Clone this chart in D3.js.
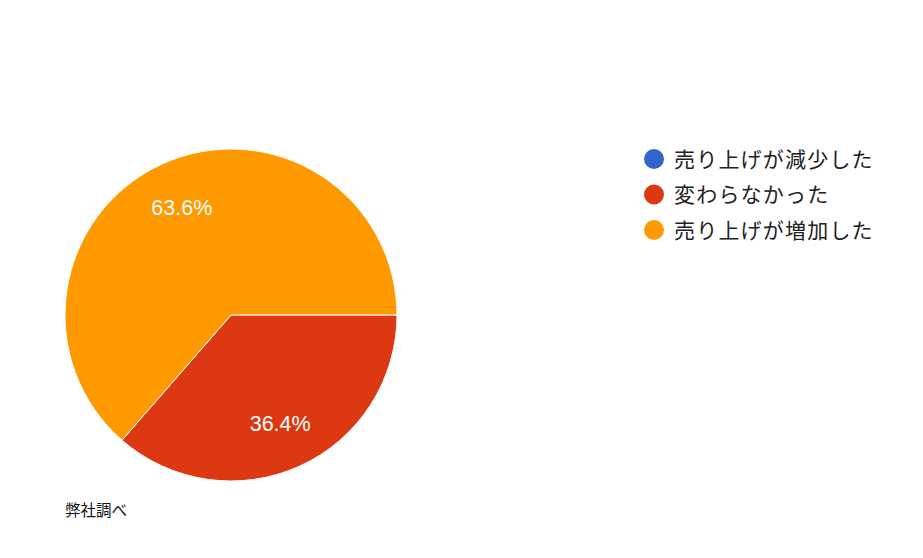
<!DOCTYPE html>
<html>
<head>
<meta charset="utf-8">
<script src="https://cdn.jsdelivr.net/npm/d3@7"></script>
<style>
  body { margin: 0; background: #fff; }
  svg { display: block; }
</style>
</head>
<body>
<svg></svg>
<script>
const categories = ["売り上げが減少した", "変わらなかった", "売り上げが増加した"];
const values = [0, 36.4, 63.6];
const colors = ["#3366cc", "#dc3912", "#ff9900"];
const source = "弊社調べ";

const width = 923;
const height = 558;
const cx = 231, cy = 315, radius = 166;

const svg = d3.select("svg").attr("width", width).attr("height", height);

const data = categories.map((c, i) => ({ name: c, value: values[i], color: colors[i] }));

const pie = d3.pie()
  .sort(null)
  .value(d => d.value)
  .startAngle(Math.PI / 2)
  .endAngle(Math.PI / 2 + 2 * Math.PI);

const arc = d3.arc().innerRadius(0).outerRadius(radius);
const labelArc = d3.arc().innerRadius(radius * 0.715).outerRadius(radius * 0.715);

const g = svg.append("g").attr("transform", `translate(${cx},${cy})`);

const arcs = pie(data).filter(d => d.data.value > 0);

g.selectAll("path")
  .data(arcs)
  .enter()
  .append("path")
  .attr("d", arc)
  .attr("fill", d => d.data.color)
  .attr("stroke", "#fff")
  .attr("stroke-width", 1);

g.selectAll("text")
  .data(arcs)
  .enter()
  .append("text")
  .attr("transform", d => `translate(${labelArc.centroid(d)})`)
  .attr("text-anchor", "middle")
  .attr("dy", "0.35em")
  .attr("fill", "#fff")
  .style("font-family", "Arial, 'Liberation Sans', sans-serif")
  .style("font-size", "21.5px")
  .text(d => d3.format(".1f")(d.data.value) + "%");

// legend
const legend = svg.append("g").attr("transform", "translate(654,159)");
const items = legend.selectAll("g")
  .data(data)
  .enter()
  .append("g")
  .attr("transform", (d, i) => `translate(0, ${i * 35.5})`);

items.append("circle").attr("r", 10).attr("fill", d => d.color);
items.append("text")
  .attr("x", 20)
  .attr("dy", "0.36em")
  .attr("fill", "#222")
  .style("font-family", "'Noto Sans CJK JP', sans-serif")
  .style("font-size", "21px")
  .style("letter-spacing", "1.2px")
  .text(d => d.name);

svg.append("text")
  .attr("x", 65)
  .attr("y", 516)
  .attr("fill", "#111")
  .style("font-family", "'Noto Sans CJK JP', sans-serif")
  .style("font-size", "15.5px")
  .text(source);
</script>
</body>
</html>
